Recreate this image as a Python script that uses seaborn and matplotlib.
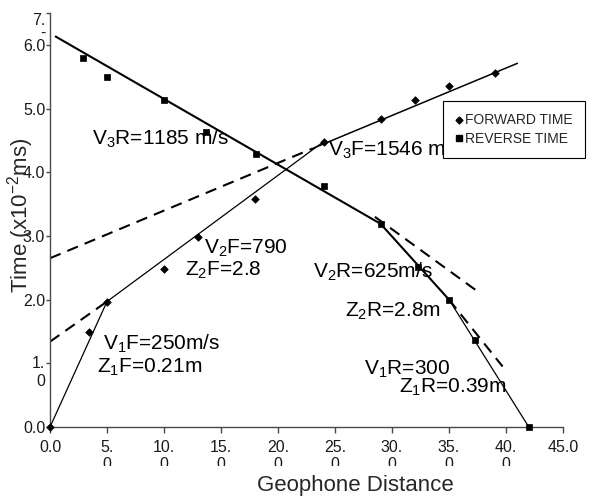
import matplotlib
matplotlib.use("Agg")
import matplotlib.pyplot as plt
import seaborn as sns
import pandas as pd
from matplotlib.transforms import Bbox, ScaledTranslation
from matplotlib.lines import Line2D

# ---------------- data ----------------
fwd_x = [0, 3.4, 5, 10, 13, 18, 24, 29, 32, 35, 39]
fwd_t = [0, 1.49, 1.97, 2.48, 2.98, 3.58, 4.48, 4.83, 5.14, 5.35, 5.56]

rev_x = [2.9, 5, 10, 13.7, 18.1, 24, 29, 32.3, 35, 37.3, 42]
rev_t = [5.79, 5.5, 5.14, 4.63, 4.29, 3.78, 3.19, 2.51, 2.0, 1.36, 0]

# fitted travel-time segments (solid)
f1_x, f1_t = [0, 5], [0, 1.97]
f2_x, f2_t = [5, 24], [1.97, 4.48]
f3_x, f3_t = [23, 41], [4.37, 5.71]
r3_x, r3_t = [0.5, 29], [6.13, 3.19]
r2_x, r2_t = [29, 35], [3.19, 2.0]
r1_x, r1_t = [35, 42], [2.0, 0]
# extensions (dashed)
f2d_x, f2d_t = [0, 5], [1.34, 1.97]
f3d_x, f3d_t = [0, 23], [2.65, 4.37]
r3d_x, r3d_t = [28.5, 37.5], [3.3, 2.13]
r2d_x, r2d_t = [35, 39.7], [2.0, 0.95]

x_ticks = [0, 5, 10, 15, 20, 25, 30, 35, 40, 45]
x_tick_labels = ["0.0", "5.\n0", "10.\n0", "15.\n0", "20.\n0", "25.\n0",
                 "30.\n0", "35.\n0", "40.\n0", "45.0"]
y_ticks = [0, 1, 2, 3, 4, 5, 6, 6.5]
y_tick_labels = ["0.0", "1.\n0", "2.0", "3.0", "4.0", "5.0", "6.0", "7.\n-"]

annot_texts = ["V$_3$R=1185 m/s", "V$_3$F=1546 m/s", "V$_2$F=790", "Z$_2$F=2.8",
               "V$_1$F=250m/s", "Z$_1$F=0.21m", "V$_2$R=625m/s", "Z$_2$R=2.8m",
               "V$_1$R=300", "Z$_1$R=0.39m"]
annot_x = [3.7, 24.4, 13.5, 11.8, 4.65, 4.1, 23.1, 25.9, 27.5, 30.6]
annot_y = [4.52, 4.35, 2.81, 2.46, 1.30, 0.93, 2.44, 1.81, 0.90, 0.63]

# ---------------- style ----------------
sns.set_theme(style="white")
plt.rcParams["font.family"] = ["Liberation Sans", "DejaVu Sans"]
plt.rcParams["mathtext.default"] = "regular"

fig = plt.figure(figsize=(5.93, 4.98), dpi=100)
ax = fig.add_axes([50 / 593, 71 / 498, 513 / 593, 414 / 498])

thin = dict(color="black", lw=0.9)
thick = dict(color="black", lw=1.5)

def seg(xs, ts, style):
    sns.lineplot(x=xs, y=ts, ax=ax, estimator=None, sort=False, **style)

seg(f1_x, f1_t, thin)
seg(f2_x, f2_t, thin)
seg(f3_x, f3_t, dict(color="black", lw=1.1))
seg(r3_x, r3_t, thick)
seg(r2_x, r2_t, thick)
seg(r1_x, r1_t, thin)
for xs, ts in [(f2d_x, f2d_t), (f3d_x, f3d_t), (r3d_x, r3d_t), (r2d_x, r2d_t)]:
    sns.lineplot(x=xs, y=ts, ax=ax, estimator=None, sort=False,
                 color="black", lw=1.5, linestyle=(0, (5.5, 3.5)))

sns.scatterplot(x=fwd_x, y=fwd_t, ax=ax, marker="D", s=15, color="black",
                edgecolor="black", linewidth=0.5, zorder=5, clip_on=False)
sns.scatterplot(x=rev_x, y=rev_t, ax=ax, marker="s", s=22, color="black",
                edgecolor="black", linewidth=0.5, zorder=5, clip_on=False)

for txt, xx, yy in zip(annot_texts, annot_x, annot_y):
    ax.text(xx, yy, txt, fontsize=15, ha="left", va="center", color="black")

ax.set_xlim(0, 45)
ax.set_ylim(0, 6.5)
for s in ["top", "right"]:
    ax.spines[s].set_visible(False)
for s in ["left", "bottom"]:
    ax.spines[s].set_color("#4a4a4a")
    ax.spines[s].set_linewidth(1.0)

ax.set_xticks(x_ticks)
ax.set_xticklabels(x_tick_labels)
ax.set_yticks(y_ticks)
ax.set_yticklabels(y_tick_labels)
ax.tick_params(axis="x", direction="out", length=4, width=1, color="#4a4a4a",
               labelsize=11.5, pad=5, bottom=True, labelcolor="#1a1a1a")
ax.tick_params(axis="y", direction="out", length=3, width=1, color="#4a4a4a",
               labelsize=11.5, pad=0.5, left=True, labelcolor="#1a1a1a")

clip = Bbox.from_extents(0, 32, 593, 498)
for lbl in ax.get_xticklabels():
    lbl.set_clip_box(clip)
    lbl.set_clip_on(True)
ylbls = ax.get_yticklabels()
for lbl in ylbls[:-1]:
    if "\n" in lbl.get_text():
        lbl.set_va("top")
        lbl.set_transform(lbl.get_transform() + ScaledTranslation(0, 7 / 100, fig.dpi_scale_trans))
ylbls[-1].set_va("top")
ylbls[-1].set_linespacing(0.8)

ax.set_xlabel("Geophone Distance", fontsize=16)
ax.xaxis.set_label_coords(0.595, -0.115)
ax.set_ylabel("Time (x10$^{-2}$ms)", fontsize=16)
ax.yaxis.set_label_coords(-0.028, 0.51)

handles = [Line2D([], [], marker="D", color="black", ls="none", markersize=3.5),
           Line2D([], [], marker="s", color="black", ls="none", markersize=4.5)]
leg = fig.legend(handles, ["FORWARD TIME", "REVERSE TIME"], loc="upper left",
                 bbox_to_anchor=(443 / 593, 1 - 101 / 498), fontsize=10,
                 frameon=True, fancybox=False, edgecolor="black", framealpha=1,
                 borderpad=0.9, handlelength=0.5, handletextpad=0.15,
                 labelspacing=0.3, borderaxespad=0)
leg.get_frame().set_linewidth(0.8)

fig.savefig("out.png", dpi=100)
